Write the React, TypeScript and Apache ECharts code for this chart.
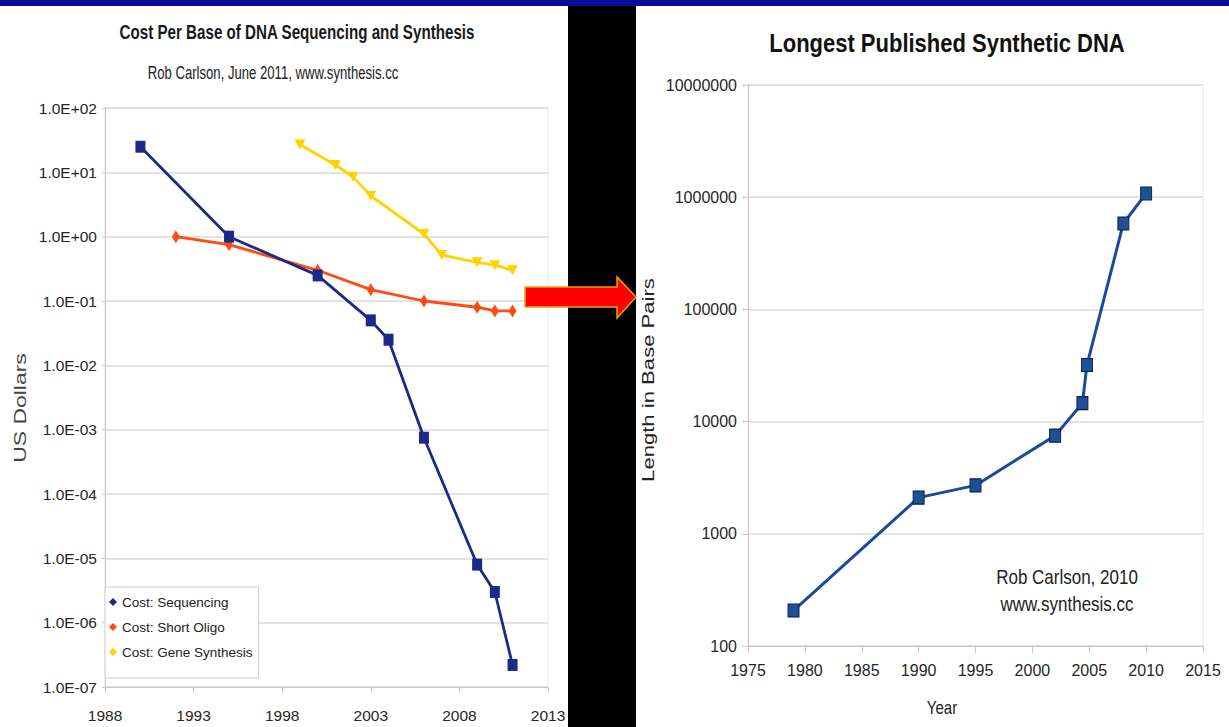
import React, { useEffect, useRef } from "react";
import * as echarts from "echarts";

const SANS = '"Liberation Sans", Arial, Helvetica, sans-serif';
// horizontal squeeze used to give the cost chart's headings a condensed look
const CONDENSED = 0.82;

// Cost per base, US dollars (log scale)
const seqYears = [1990, 1995, 2000, 2003, 2004, 2006, 2009, 2010, 2011];
const seqCost = [25, 1.0, 0.25, 0.05, 0.025, 7.5e-4, 8e-6, 3e-6, 2.2e-7];

const oligoYears = [1992, 1995, 2000, 2003, 2006, 2009, 2010, 2011];
const oligoCost = [1.0, 0.75, 0.3, 0.15, 0.1, 0.08, 0.07, 0.07];

const geneYears = [1999, 2001, 2002, 2003, 2006, 2007, 2009, 2010, 2011];
const geneCost = [27, 13, 8.5, 4.3, 1.1, 0.52, 0.4, 0.36, 0.3];

const costYearTicks = [1988, 1993, 1998, 2003, 2008, 2013];

// Longest published synthetic DNA, base pairs (log scale)
const synthYears = [1979, 1990, 1995, 2002, 2004.4, 2004.8, 2008, 2010];
const synthLength = [207, 2100, 2700, 7500, 14600, 32000, 583000, 1080000];

const lengthYearTicks = [1975, 1980, 1985, 1990, 1995, 2000, 2005, 2010, 2015];

const seriesNames = ["Cost: Sequencing", "Cost: Short Oligo", "Cost: Gene Synthesis"];

const toPairs = (xs: number[], ys: number[]) => xs.map((x, i) => [x, ys[i]]);

const sciLabel = (v: number) => {
  const e = Math.round(Math.log10(v));
  const sign = e < 0 ? "-" : "+";
  return `1.0E${sign}${String(Math.abs(e)).padStart(2, "0")}`;
};

const AXIS_GRAY = "#c8c8c8";
const GRID_GRAY = "#dadada";

export default function App() {
  const ref = useRef<HTMLDivElement>(null);

  useEffect(() => {
    const chart = echarts.init(ref.current!, undefined, { renderer: "svg" });
    chart.setOption({
      animation: false,
      backgroundColor: "#ffffff",
      grid: [
        { left: 105, top: 108, width: 443, height: 579, show: true, borderColor: "#e6e6e6", borderWidth: 1 },
        { left: 748, top: 85, width: 455, height: 561, show: true, borderColor: "#e6e6e6", borderWidth: 1 },
      ],
      xAxis: [
        {
          gridIndex: 0,
          type: "value",
          min: 1988,
          max: 2013,
          interval: 5,
          axisLine: { show: true, lineStyle: { color: AXIS_GRAY } },
          axisTick: { show: true, length: 6, customValues: costYearTicks, lineStyle: { color: AXIS_GRAY } },
          axisLabel: {
            margin: 20,
            fontFamily: SANS,
            fontSize: 15.5,
            color: "#262626",
            customValues: costYearTicks,
            formatter: (v: number) => String(v),
          },
          splitLine: { show: false },
        },
        {
          gridIndex: 1,
          type: "value",
          min: 1975,
          max: 2015,
          interval: 5,
          axisLine: { show: true, lineStyle: { color: AXIS_GRAY } },
          axisTick: { show: true, length: 7, customValues: lengthYearTicks, lineStyle: { color: AXIS_GRAY } },
          axisLabel: {
            margin: 16,
            fontFamily: SANS,
            fontSize: 16,
            color: "#262626",
            customValues: lengthYearTicks,
            formatter: (v: number) => String(v),
          },
          splitLine: { show: false },
        },
      ],
      yAxis: [
        {
          gridIndex: 0,
          type: "log",
          logBase: 10,
          min: 1e-7,
          max: 100,
          splitNumber: 10,
          axisLine: { show: true, lineStyle: { color: AXIS_GRAY } },
          axisTick: { show: true, length: 3, lineStyle: { color: AXIS_GRAY } },
          axisLabel: { margin: 8, fontFamily: SANS, fontSize: 15.5, color: "#262626", formatter: sciLabel },
          splitLine: { show: true, lineStyle: { color: GRID_GRAY, width: 1.5 } },
        },
        {
          gridIndex: 1,
          type: "log",
          logBase: 10,
          min: 100,
          max: 1e7,
          splitNumber: 10,
          axisLine: { show: true, lineStyle: { color: AXIS_GRAY } },
          axisTick: { show: true, length: 6, lineStyle: { color: AXIS_GRAY } },
          axisLabel: {
            margin: 11,
            fontFamily: SANS,
            fontSize: 16,
            color: "#262626",
            formatter: (v: number) => String(Math.round(v)),
          },
          splitLine: { show: true, lineStyle: { color: GRID_GRAY, width: 1.5 } },
        },
      ],
      legend: {
        data: seriesNames,
        orient: "vertical",
        left: 105,
        top: 587,
        padding: [8, 6, 19, 4],
        itemGap: 11,
        itemWidth: 8,
        itemHeight: 8,
        icon: "diamond",
        backgroundColor: "#ffffff",
        borderColor: "#cfcfcf",
        borderWidth: 1,
        textStyle: { fontFamily: SANS, fontSize: 13.5, color: "#222" },
      },
      series: [
        {
          name: "Cost: Gene Synthesis",
          type: "line",
          xAxisIndex: 0,
          yAxisIndex: 0,
          data: toPairs(geneYears, geneCost),
          symbol: "triangle",
          symbolRotate: 180,
          symbolSize: [11, 10],
          lineStyle: { color: "#ffd200", width: 2.8 },
          itemStyle: { color: "#ffd200" },
        },
        {
          name: "Cost: Short Oligo",
          type: "line",
          xAxisIndex: 0,
          yAxisIndex: 0,
          data: toPairs(oligoYears, oligoCost),
          symbol: "diamond",
          symbolSize: [8, 13],
          lineStyle: { color: "#ff4a12", width: 2.8 },
          itemStyle: { color: "#ff4a12" },
        },
        {
          name: "Cost: Sequencing",
          type: "line",
          xAxisIndex: 0,
          yAxisIndex: 0,
          data: toPairs(seqYears, seqCost),
          symbol: "rect",
          symbolSize: [10, 12],
          lineStyle: { color: "#1b2a88", width: 2.8 },
          itemStyle: { color: "#1b2a88" },
        },
        {
          name: "Longest Published Synthetic DNA",
          type: "line",
          xAxisIndex: 1,
          yAxisIndex: 1,
          data: toPairs(synthYears, synthLength),
          symbol: "rect",
          symbolSize: [11, 13],
          lineStyle: { color: "#1a4a9a", width: 3 },
          itemStyle: { color: "#1f4f95", borderColor: "#0b1f4d", borderWidth: 1 },
        },
      ],
      graphic: [
        { type: "rect", shape: { x: 0, y: 0, width: 1229, height: 6 }, style: { fill: "#0b0b96" } },
        { type: "rect", shape: { x: 568, y: 6, width: 68, height: 721 }, style: { fill: "#000000" } },
        {
          type: "polygon",
          z: 100,
          shape: {
            points: [
              [525, 287],
              [617, 287],
              [617, 277],
              [636, 297],
              [617, 318],
              [617, 307],
              [525, 307],
            ],
          },
          style: { fill: "#ff0000", stroke: "#e0a800", lineWidth: 1.5 },
        },
        {
          type: "text",
          x: 297,
          y: 32,
          scaleX: CONDENSED,
          scaleY: 1.1,
          style: {
            text: "Cost Per Base of DNA Sequencing and Synthesis",
            fontFamily: SANS,
            fontWeight: "bold",
            fontSize: 18.5,
            fill: "#1a1a1a",
            align: "center",
            verticalAlign: "middle",
          },
        },
        {
          type: "text",
          x: 273,
          y: 73,
          scaleX: CONDENSED,
          scaleY: 1.1,
          style: {
            text: "Rob Carlson, June 2011, www.synthesis.cc",
            fontFamily: SANS,
            fontSize: 16,
            fill: "#222",
            align: "center",
            verticalAlign: "middle",
          },
        },
        {
          type: "text",
          x: 20,
          y: 408,
          rotation: Math.PI / 2,
          scaleX: 1.35,
          style: {
            text: "US Dollars",
            fontFamily: SANS,
            fontSize: 17,
            fill: "#444",
            align: "center",
            verticalAlign: "middle",
          },
        },
        {
          type: "text",
          x: 947,
          y: 43,
          scaleY: 1.2,
          style: {
            text: "Longest Published Synthetic DNA",
            fontFamily: SANS,
            fontWeight: "bold",
            fontSize: 22,
            fill: "#111",
            align: "center",
            verticalAlign: "middle",
          },
        },
        {
          type: "text",
          x: 648,
          y: 380,
          rotation: Math.PI / 2,
          scaleX: 1.3,
          style: {
            text: "Length in Base Pairs",
            fontFamily: SANS,
            fontSize: 17,
            fill: "#222",
            align: "center",
            verticalAlign: "middle",
          },
        },
        {
          type: "text",
          x: 942,
          y: 708,
          scaleY: 1.2,
          style: { text: "Year", fontFamily: SANS, fontSize: 15, fill: "#222", align: "center", verticalAlign: "middle" },
        },
        {
          type: "text",
          x: 1067,
          y: 577,
          scaleY: 1.2,
          style: {
            text: "Rob Carlson, 2010",
            fontFamily: SANS,
            fontSize: 17,
            fill: "#222",
            align: "center",
            verticalAlign: "middle",
          },
        },
        {
          type: "text",
          x: 1067,
          y: 604,
          scaleY: 1.2,
          style: {
            text: "www.synthesis.cc",
            fontFamily: SANS,
            fontSize: 17,
            fill: "#222",
            align: "center",
            verticalAlign: "middle",
          },
        },
      ],
    });
    return () => chart.dispose();
  }, []);

  return (
    <div
      ref={ref}
      style={{ position: "fixed", left: 0, top: 0, width: 1229, height: 727, background: "#ffffff" }}
    />
  );
}
